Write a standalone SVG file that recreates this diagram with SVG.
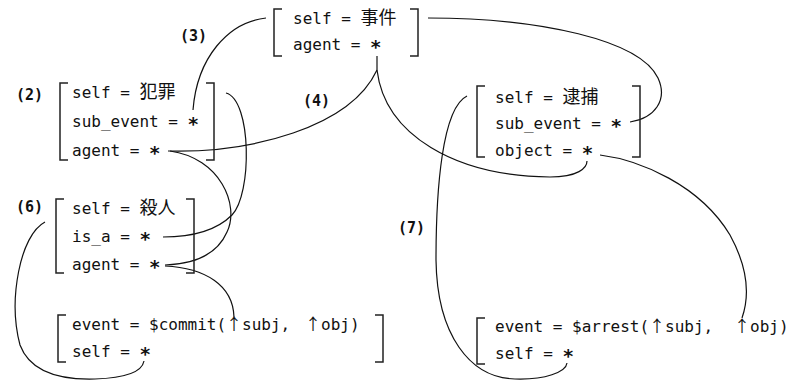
<svg xmlns="http://www.w3.org/2000/svg" width="795" height="385" viewBox="0 0 795 385">
<defs>
<style>
.t{font-family:"DejaVu Sans Mono","Liberation Mono","Noto Sans CJK JP",monospace;font-size:16px;fill:#111}
.j{font-family:"Noto Sans CJK JP","Noto Sans CJK SC",sans-serif;font-size:18px}
.a{font-family:"Noto Sans CJK JP","Noto Sans CJK SC",sans-serif;font-size:16px}
.s{font-weight:bold;font-size:19px}
.lb{font-family:"DejaVu Sans Mono","Liberation Mono",monospace;font-size:15px;font-weight:bold;fill:#111}
.br{fill:none;stroke:#222;stroke-width:1.5}
.c{fill:none;stroke:#111;stroke-width:1.2}
</style>
</defs>
<rect width="795" height="385" fill="#fff"/>

<g id="connectors">
  <path class="c" d="M 428 18 C 540 18, 640 40, 658 78 C 668 100, 655 118, 630 122"/>
  <path class="c" d="M 266 18 C 228 22, 197 58, 193 110"/>
  <path class="c" d="M 377 56 L 377 70"/>
  <path class="c" d="M 168 151 C 250 153, 350 128, 377 70"/>
  <path class="c" d="M 377 70 C 385 135, 455 176, 550 177 C 578 177, 587 168, 587 161"/>
  <path class="c" d="M 226 93 C 252 100, 252 195, 232 215 C 215 232, 190 237, 163 237"/>
  <path class="c" d="M 170 151 C 220 158, 240 205, 227 232 C 217 255, 195 264, 165 265"/>
  <path class="c" d="M 165 266 C 205 268, 233 285, 234 317"/>
  <path class="c" d="M 45 222 C 20 235, 8 300, 20 345 C 30 372, 60 380, 95 379 C 125 378, 142 372, 144 361"/>
  <path class="c" d="M 600 155 C 640 160, 700 185, 730 235 C 748 268, 750 295, 742 318"/>
  <path class="c" d="M 467 96 C 442 108, 436 190, 436 260 C 437 335, 470 378, 515 379 C 545 380, 566 372, 567 363"/>
</g>

<g id="labels">
  <text class="lb" x="180" y="41">(3)</text>
  <text class="lb" x="16" y="100">(2)</text>
  <text class="lb" x="303" y="106">(4)</text>
  <text class="lb" x="16" y="212">(6)</text>
  <text class="lb" x="398" y="233">(7)</text>
</g>

<g id="node-jiken">
  <path class="br" d="M 282 9 H 274 V 56 H 282"/>
  <path class="br" d="M 410 9 H 418 V 56 H 410"/>
  <text class="t" x="293" y="24">self = <tspan class="j">事件</tspan></text>
  <text class="t" x="293" y="50">agent = <tspan class="s">∗</tspan></text>
</g>

<g id="node-hanzai">
  <path class="br" d="M 68 83 H 60 V 160 H 68"/>
  <path class="br" d="M 206 83 H 214 V 160 H 206"/>
  <text class="t" x="72" y="98">self = <tspan class="j">犯罪</tspan></text>
  <text class="t" x="72" y="127">sub_event = <tspan class="s">∗</tspan></text>
  <text class="t" x="72" y="156">agent = <tspan class="s">∗</tspan></text>
</g>

<g id="node-satsujin">
  <path class="br" d="M 64 199 H 56 V 273 H 64"/>
  <path class="br" d="M 186 199 H 194 V 273 H 186"/>
  <text class="t" x="72" y="214">self = <tspan class="j">殺人</tspan></text>
  <text class="t" x="72" y="242">is_a = <tspan class="s">∗</tspan></text>
  <text class="t" x="72" y="270">agent = <tspan class="s">∗</tspan></text>
</g>

<g id="node-commit">
  <path class="br" d="M 66 315 H 58 V 362 H 66"/>
  <path class="br" d="M 375 315 H 383 V 362 H 375"/>
  <text class="t" y="330"><tspan x="72">event = $commit(</tspan><tspan class="a" x="226">↑</tspan><tspan x="242">subj,</tspan><tspan class="a" x="305">↑</tspan><tspan x="321">obj)</tspan></text>
  <text class="t" x="72" y="357">self = <tspan class="s">∗</tspan></text>
</g>

<g id="node-taiho">
  <path class="br" d="M 485 86 H 477 V 157 H 485"/>
  <path class="br" d="M 632 86 H 640 V 157 H 632"/>
  <text class="t" x="495" y="103">self = <tspan class="j">逮捕</tspan></text>
  <text class="t" x="495" y="129">sub_event = <tspan class="s">∗</tspan></text>
  <text class="t" x="495" y="156">object = <tspan class="s">∗</tspan></text>
</g>

<g id="node-arrest">
  <path class="br" d="M 485 318 H 477 V 364 H 485"/>
  <text class="t" y="332"><tspan x="495">event = $arrest(</tspan><tspan class="a" x="649">↑</tspan><tspan x="665">subj,</tspan><tspan class="a" x="734">↑</tspan><tspan x="750">obj)</tspan></text>
  <text class="t" x="495" y="359">self = <tspan class="s">∗</tspan></text>
</g>
</svg>
